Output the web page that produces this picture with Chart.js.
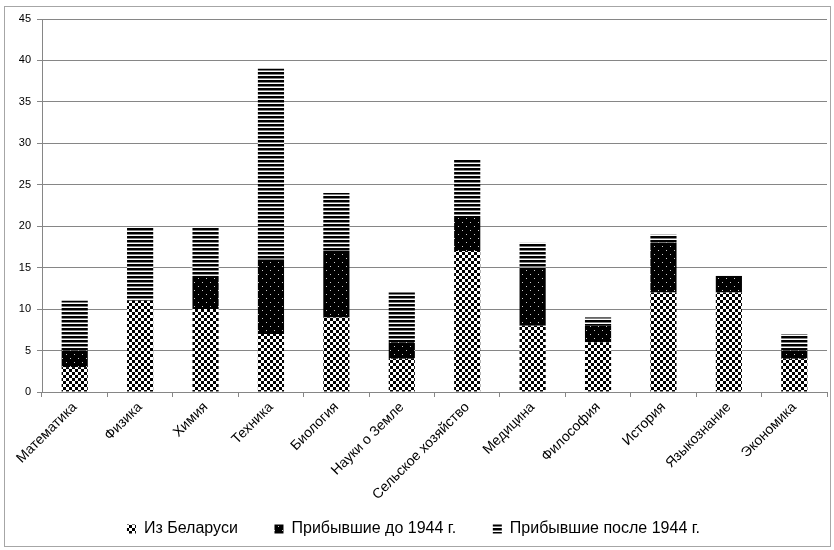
<!DOCTYPE html>
<html>
<head>
<meta charset="utf-8">
<script src="https://cdn.jsdelivr.net/npm/chart.js@4"></script>
<style>
html,body{margin:0;padding:0;background:#fff;}
#wrap{position:relative;width:834px;height:550px;}
</style>
</head>
<body>
<div id="wrap"><canvas id="c" width="834" height="550"></canvas></div>
<script>
const categories = ["Математика","Физика","Химия","Техника","Биология","Науки о Земле","Сельское хозяйство","Медицина","Философия","История","Языкознание","Экономика"];
const seriesNames = ["Из Беларуси","Прибывшие до 1944 г.","Прибывшие после 1944 г."];
const fromBelarus = [3,11,10,7,9,4,17,8,6,12,12,4];
const before1944 = [2,0,4,9,8,2,4,7,2,6,2,1];
const after1944 = [6,9,6,23,7,6,7,3,1,1,0,2];
const yTicks = [0,5,10,15,20,25,30,35,40,45];

function makePattern(w, h, draw) {
  const t = document.createElement('canvas');
  t.width = w; t.height = h;
  const g = t.getContext('2d');
  draw(g);
  return document.createElement('canvas').getContext('2d').createPattern(t, 'repeat');
}
const checker = makePattern(6, 6, g => {
  g.fillStyle = '#fff'; g.fillRect(0,0,6,6);
  g.fillStyle = '#000'; g.fillRect(0,0,3,3); g.fillRect(3,3,3,3);
});
const dots = makePattern(8, 8, g => {
  g.fillStyle = '#000'; g.fillRect(0,0,8,8);
  g.fillStyle = '#ccc'; g.fillRect(2,2,1,1); g.fillRect(6,6,1,1);
});
const stripes = makePattern(4, 4, g => {
  g.fillStyle = '#fff'; g.fillRect(0,0,4,4);
  g.fillStyle = '#000'; g.fillRect(0,0,4,2);
  g.fillStyle = '#808080'; g.fillRect(0,2,4,1);
});

const borderPlugin = {
  id: 'outerBorder',
  beforeDraw(chart) {
    const ctx = chart.ctx;
    ctx.save();
    ctx.strokeStyle = '#a6a6a6';
    ctx.lineWidth = 1;
    ctx.strokeRect(4.5, 6.5, 826, 540);
    ctx.restore();
  }
};

const fontFam = '"Liberation Sans", Arial, sans-serif';
const legendGap = '      ';
new Chart(document.getElementById('c'), {
  type: 'bar',
  data: {
    labels: categories,
    datasets: [
      {label: seriesNames[0], data: fromBelarus, backgroundColor: checker, borderWidth: 0},
      {label: seriesNames[1], data: before1944, backgroundColor: dots, borderWidth: 0},
      {label: seriesNames[2], data: after1944, backgroundColor: stripes, borderWidth: 0}
    ]
  },
  options: {
    responsive: false,
    animation: false,
    events: [],
    layout: {padding: {left: 0, right: 7, top: 19, bottom: 3}},
    datasets: {bar: {barPercentage: 0.4, categoryPercentage: 1.0}},
    plugins: {
      tooltip: {enabled: false},
      legend: {
        position: 'bottom',
        labels: {
          boxWidth: 9, boxHeight: 9, padding: 10,
          color: '#000',
          font: {family: fontFam, size: 16},
          generateLabels(chart) {
            const items = Chart.defaults.plugins.legend.labels.generateLabels(chart);
            items.forEach((it, i) => {
              it.lineWidth = 0;
              if (i < items.length - 1) it.text = it.text + legendGap;
            });
            return items;
          }
        }
      }
    },
    scales: {
      x: {
        stacked: true,
        afterFit(s) { s.height = 119; },
        grid: {display: true, drawOnChartArea: false, drawTicks: true, tickLength: 5, color: '#868686', offset: true},
        border: {display: true, color: '#868686'},
        ticks: {
          color: '#000', maxRotation: 45, minRotation: 45, autoSkip: false, padding: 2,
          font: {family: fontFam, size: 14}
        }
      },
      y: {
        stacked: true,
        min: 0, max: 45,
        afterFit(s) { s.width = 42; },
        afterBuildTicks(s) { s.ticks = yTicks.map(v => ({value: v})); },
        grid: {color: '#868686', drawTicks: true, tickLength: 5},
        border: {display: true, color: '#868686'},
        ticks: {color: '#000', padding: 6, font: {family: fontFam, size: 11}}
      }
    }
  },
  plugins: [borderPlugin]
});
</script>
</body>
</html>
